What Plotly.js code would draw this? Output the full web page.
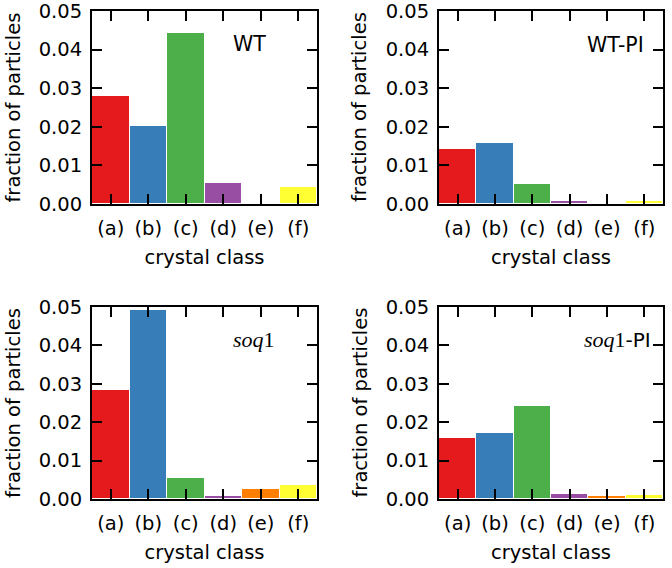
<!DOCTYPE html>
<html>
<head>
<meta charset="utf-8">
<script src="https://cdn.plot.ly/plotly-3.0.1.min.js"></script>
<style>html,body{margin:0;padding:0;background:#fff;}#chart{width:672px;height:568px;}</style>
</head>
<body>
<div id="chart"></div>
<script>
const categories = ['(a)', '(b)', '(c)', '(d)', '(e)', '(f)'];
const classColors = ['#e41a1c', '#377eb8', '#4daf4a', '#984ea3', '#ff7f00', '#ffff33'];
const wt     = [0.0280, 0.0202, 0.0443, 0.0055, 0.0000, 0.0043];
const wtPI   = [0.0143, 0.0159, 0.0051, 0.0007, 0.0000, 0.0007];
const soq1   = [0.0285, 0.0493, 0.0055, 0.0008, 0.0026, 0.0037];
const soq1PI = [0.0159, 0.0171, 0.0241, 0.0012, 0.0008, 0.0010];
const yTicks = [0, 0.01, 0.02, 0.03, 0.04, 0.05];
const panelLabels = ['WT', 'WT-PI', '<i>soq</i>1', '<i>soq</i>1<span style="font-family:DejaVu Sans;font-size:20px">-PI</span>'];
const xTitle = 'crystal class';
const yTitle = 'fraction of particles';

const series = [wt, wtPI, soq1, soq1PI];
const FONT = 'DejaVu Sans, sans-serif';
const FS = 19.5;

const traces = series.map((vals, i) => ({
  type: 'bar',
  x: categories,
  y: vals,
  xaxis: i === 0 ? 'x' : 'x' + (i + 1),
  yaxis: i === 0 ? 'y' : 'y' + (i + 1),
  width: 1,
  marker: {color: classColors, line: {color: '#ffffff', width: 1}},
  showlegend: false,
  hoverinfo: 'x+y'
}));

const W = 672, H = 568;
const colPx = [[92, 317], [439, 663]];
const rowPx = [[11, 204], [307, 499]];
const yTitleX = [13, 359.5];

function xax(col, anchor) {
  return {
    anchor: anchor,
    domain: [colPx[col][0] / W, colPx[col][1] / W],
    range: [-0.5, 5.5],
    type: 'category',
    showline: true, linecolor: '#000', linewidth: 2, mirror: 'allticks',
    ticks: 'inside', ticklen: 10, tickwidth: 1.5, tickcolor: '#000',
    showgrid: false, zeroline: false,
    tickfont: {family: FONT, size: FS, color: '#000'},
    ticklabelstandoff: 6,
    ticklabeloverflow: 'allow',
    title: {text: xTitle, font: {family: FONT, size: FS, color: '#000'}, standoff: 11},
    automargin: false, fixedrange: true
  };
}
function yax(row, col, anchor) {
  return {
    anchor: anchor,
    domain: [1 - rowPx[row][1] / H, 1 - rowPx[row][0] / H],
    range: [0, 0.05],
    tickvals: yTicks,
    tickformat: '.2f',
    showline: true, linecolor: '#000', linewidth: 2, mirror: 'allticks',
    ticks: 'inside', ticklen: 10, tickwidth: 1.5, tickcolor: '#000',
    showgrid: false, zeroline: false,
    tickfont: {family: FONT, size: FS, color: '#000'},
    ticklabelstandoff: 4,
    ticklabeloverflow: 'allow',
    automargin: false, fixedrange: true
  };
}

const labelPos = [[0.782, 0.829], [0.924, 0.824], [0.822, 0.833], [0.955, 0.833]];
const annotations = panelLabels.map((t, i) => ({
  text: t,
  xref: (i === 0 ? 'x' : 'x' + (i + 1)) + ' domain',
  yref: (i === 0 ? 'y' : 'y' + (i + 1)) + ' domain',
  x: labelPos[i][0], y: labelPos[i][1],
  xanchor: 'right', yanchor: 'middle', showarrow: false,
  font: {family: i >= 2 ? 'Liberation Serif, serif' : FONT, size: i >= 2 ? 22 : 20.5, color: '#000'}
}));
// y-axis titles (rotated), one per panel
for (let i = 0; i < 4; i++) {
  const col = i % 2;
  annotations.push({
    text: yTitle,
    xref: 'paper',
    yref: (i === 0 ? 'y' : 'y' + (i + 1)) + ' domain',
    x: yTitleX[col] / W, y: 0.5,
    xanchor: 'center', yanchor: 'middle', showarrow: false,
    textangle: -90,
    font: {family: FONT, size: FS, color: '#000'}
  });
}

const layout = {
  width: W, height: H,
  margin: {l: 0, r: 0, t: 0, b: 0},
  paper_bgcolor: '#fff', plot_bgcolor: '#fff',
  bargap: 0,
  xaxis: xax(0, 'y'), yaxis: yax(0, 0, 'x'),
  xaxis2: xax(1, 'y2'), yaxis2: yax(0, 1, 'x2'),
  xaxis3: xax(0, 'y3'), yaxis3: yax(1, 0, 'x3'),
  xaxis4: xax(1, 'y4'), yaxis4: yax(1, 1, 'x4'),
  annotations: annotations
};

Plotly.newPlot('chart', traces, layout, {displayModeBar: false});
</script>
</body>
</html>
